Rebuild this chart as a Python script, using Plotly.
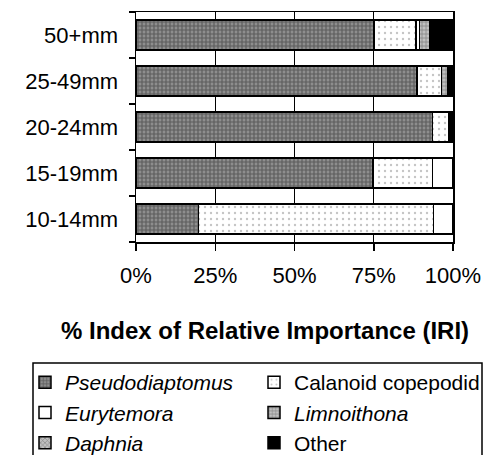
import plotly.graph_objects as go

categories = ['10-14mm', '15-19mm', '20-24mm', '25-49mm', '50+mm']
pseudodiaptomus = [19.7, 74.7, 93.6, 88.7, 75.1]
calanoid_copepodid = [74.1, 18.9, 5.2, 7.7, 13.2]
eurytemora = [6.2, 6.4, 0, 0, 1.1]
limnoithona = [0, 0, 0, 1.8, 3.3]
daphnia = [0, 0, 0, 0, 0]
other = [0, 0, 1.2, 1.8, 7.3]
x_ticks = [0, 25, 50, 75, 100]
x_ticklabels = ['0%', '25%', '50%', '75%', '100%']

FONT = 'Liberation Sans, Arial, sans-serif'

# (legend label, values, fill pattern, legend column)
series = [
    ('<i>Pseudodiaptomus</i>', pseudodiaptomus, dict(shape='+', bgcolor='#8e8e8e', fgcolor='#2a2a2a', size=4, solidity=0.5), 'legend'),
    ('Calanoid copepodid', calanoid_copepodid, dict(shape='.', bgcolor='white', fgcolor='#8a8a8a', size=6, solidity=0.12), 'legend2'),
    ('<i>Eurytemora</i>', eurytemora, None, 'legend'),
    ('<i>Limnoithona</i>', limnoithona, dict(shape='+', bgcolor='#c0c0c0', fgcolor='#444444', size=4, solidity=0.35), 'legend2'),
    ('<i>Daphnia</i>', daphnia, dict(shape='x', bgcolor='#c0c0c0', fgcolor='#444444', size=4, solidity=0.35), 'legend'),
    ('Other', other, None, 'legend2'),
]
solid_colors = {'<i>Eurytemora</i>': 'white', 'Other': 'black'}

fig = go.Figure()
for name, vals, pat, leg in series:
    marker = dict(line=dict(color='black', width=1.5))
    if pat is None:
        marker['color'] = solid_colors[name]
    else:
        marker['color'] = pat['bgcolor']
        marker['pattern'] = pat
    fig.add_trace(go.Bar(y=categories, x=vals, name=name, orientation='h',
                         marker=marker, legend=leg, hoverinfo='skip'))

# plot area in pixels: x 136..453, y 12..242
L, R, T, B = 136, 453, 12, 242
W, H = R - L, B - T
def px(x): return (x - L) / W
def py(y): return (B - y) / H

legend_common = dict(
    orientation='v', traceorder='normal', xanchor='left', yanchor='top',
    borderwidth=0, bgcolor='rgba(0,0,0,0)',
    font=dict(family=FONT, size=21, color='black'),
    itemclick=False, tracegroupgap=0,
)

fig.update_layout(
    width=484, height=455,
    barmode='stack', bargap=0.35,
    margin=dict(l=L, r=484 - R, t=T, b=455 - B, autoexpand=False),
    paper_bgcolor='white', plot_bgcolor='white',
    font=dict(family=FONT, size=22, color='black'),
    showlegend=True,
    legend=dict(legend_common, x=px(25), y=py(362)),
    legend2=dict(legend_common, x=px(254), y=py(362)),
    shapes=[dict(type='rect', xref='paper', yref='paper',
                 x0=px(33), x1=px(482), y0=py(363), y1=py(470),
                 line=dict(color='black', width=1.5), fillcolor='rgba(0,0,0,0)')],
    annotations=[dict(
        text='<b>% Index of Relative Importance (IRI)</b>',
        xref='paper', yref='paper', x=px(265), y=py(330),
        xanchor='center', yanchor='middle', showarrow=False,
        font=dict(family=FONT, size=24, color='black'),
    )],
)
fig.update_xaxes(
    range=[0, 100], tickmode='array', tickvals=x_ticks, ticktext=x_ticklabels,
    showgrid=True, gridcolor='black', gridwidth=1,
    showline=True, linecolor='black', linewidth=1.5, mirror=True,
    ticks='outside', ticklen=7, tickcolor='black', tickwidth=1.5,
    ticklabelstandoff=6, zeroline=False,
)
fig.update_yaxes(
    categoryorder='array', categoryarray=categories,
    tickson='boundaries', ticks='outside', ticklen=6, tickcolor='black', tickwidth=1.5,
    showline=True, linecolor='black', linewidth=1.5, mirror=True,
    showgrid=False, ticklabelstandoff=12,
)
fig.write_html('out.html', config={'displayModeBar': False, 'staticPlot': True})

# remove the browser's default 8px body margin so the figure sits at the page origin
with open('out.html', encoding='utf-8') as f:
    html = f.read()
html = html.replace('<head>', '<head><style>html,body{margin:0;padding:0;overflow:hidden;}</style>', 1)
with open('out.html', 'w', encoding='utf-8') as f:
    f.write(html)
